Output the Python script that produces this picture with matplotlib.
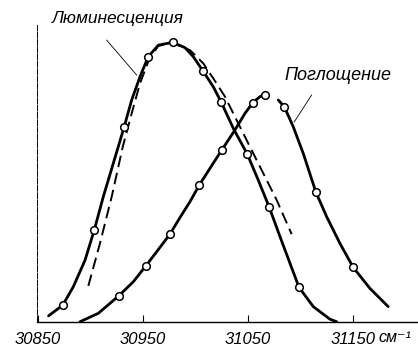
import matplotlib
matplotlib.use("Agg")
import matplotlib.pyplot as plt

# Luminescence curve (solid) and its measured points
lum_x = [30860, 30873.5, 30883.6, 30894.8, 30903.6, 30912.2, 30921.7, 30931.9,
         30939.2, 30947.1, 30955, 30964.6, 30978.3, 30990, 30997.9, 31006.9,
         31017, 31024.3, 31036, 31049.3, 31059.8, 31070.3, 31080.5, 31090,
         31098.6, 31112.2, 31128.1, 31134.5]
lum_y = [2.2, 6.0, 12.6, 22.1, 32.9, 44.8, 56.7, 69.5,
         79.3, 87.6, 94.8, 98.9, 99.9, 98.0, 94.8, 89.8,
         84.0, 78.7, 69.2, 60.0, 50.7, 41.0, 30.5, 21.0,
         12.4, 5.5, 1.0, 0.1]
lum_pts_x = [30873.5, 30903.6, 30931.9, 30955, 30978.3, 31006.9, 31024.3,
             31049.3, 31070.3, 31098.6]
lum_pts_y = [6.0, 32.9, 69.5, 94.8, 99.9, 89.8, 78.7, 60.0, 41.0, 12.4]

# Mirror image of the absorption curve (dashed)
mir_x = [30897.9, 30909, 30920.2, 30930.7, 30939.2, 30947.1, 30955, 30964.3,
         30977.6, 30994.8, 31007.4, 31017, 31028.1, 31039.2, 31051.9,
         31064.6, 31077.3, 31091.6]
mir_y = [12.9, 28.1, 44.8, 62.6, 74.5, 85.2, 93.0, 98.6,
         99.8, 97.1, 92.4, 87.0, 80.5, 72.1, 62.6,
         53.1, 43.6, 31.4]

# Absorption curve, low-frequency branch
abs1_x = [30890, 30907.4, 30927.1, 30940.8, 30952.6, 30963, 30975.7, 30985.2,
          30994.8, 31003.6, 31013.8, 31025, 31037.6, 31047.1, 31054.5,
          31061.4, 31066.2]
abs1_y = [0.1, 3.1, 9.4, 14.4, 20.0, 25.1, 31.4, 37.3,
          43.0, 48.9, 54.9, 61.4, 68.6, 74.5, 78.3,
          80.5, 81.1]
abs1_pts_x = [30927.1, 30952.6, 30975.7, 31003.6, 31025, 31054.5, 31066.2]
abs1_pts_y = [9.4, 20.0, 31.4, 48.9, 61.4, 78.3, 81.1]

# Absorption curve, high-frequency branch
abs2_x = [31078.9, 31084.6, 31093.1, 31102.7, 31114.8, 31125, 31137.6,
          31150.3, 31166.2, 31183.6]
abs2_y = [79.3, 76.9, 69.8, 60.2, 46.3, 37.6, 28.1, 19.5, 12.0, 5.5]
abs2_pts_x = [31084.6, 31114.8, 31150.3]
abs2_pts_y = [76.9, 46.3, 19.5]

ticks = [30850, 30950, 31050, 31150]
tick_labels = ["30850", "30950", "31050", "31150"]

fam = ["Liberation Sans", "DejaVu Sans"]

fig = plt.figure(figsize=(4.18, 3.5), dpi=100)
ax = fig.add_axes([37 / 418, 28 / 350, 381 / 418, 297 / 350])

ax.plot(lum_x, lum_y, color="black", lw=2.0, solid_capstyle="round")
ax.plot(mir_x, mir_y, color="black", lw=1.4, dashes=(6, 3))
ax.plot(abs1_x, abs1_y, color="black", lw=2.0, solid_capstyle="round")
ax.plot(abs2_x, abs2_y, color="black", lw=2.0, solid_capstyle="round")

mk = dict(ls="none", marker="o", ms=5.5, mfc="white", mec="black", mew=1.1, zorder=3)
ax.plot(lum_pts_x, lum_pts_y, **mk)
ax.plot(abs1_pts_x, abs1_pts_y, **mk)
ax.plot(abs2_pts_x, abs2_pts_y, **mk)

# labels with leader lines
ax.text(30863, 108.6, "Люминесценция", family=fam, style="italic",
        fontsize=12.5, va="center", ha="left")
ax.plot([30915.4, 30944], [100.7, 88.2], color="black", lw=0.6)
ax.text(31085, 88.2, "Поглощение", family=fam, style="italic",
        fontsize=13, va="center", ha="left")
ax.plot([31110.7, 31094.1], [81.1, 71.5], color="black", lw=0.6)

ax.set_xlim(30849, 31212)
ax.set_ylim(0, 106.1)
ax.set_xticks(ticks)
ax.set_xticklabels(tick_labels, family=fam, style="italic", fontsize=12)
ax.tick_params(axis="x", direction="in", length=5, width=0.8, pad=7)
ax.set_yticks([])
for s in ["top", "right"]:
    ax.spines[s].set_visible(False)
ax.spines["left"].set_linewidth(0.7)
ax.spines["left"].set_linestyle((0, (6, 1.5)))
ax.spines["bottom"].set_linewidth(1.0)
ax.patch.set_alpha(0)

fig.text(378 / 418, 12 / 350, "см⁻¹", family=fam, style="italic",
         fontsize=11.5, va="center", ha="left")

fig.savefig("out.png", dpi=100)
